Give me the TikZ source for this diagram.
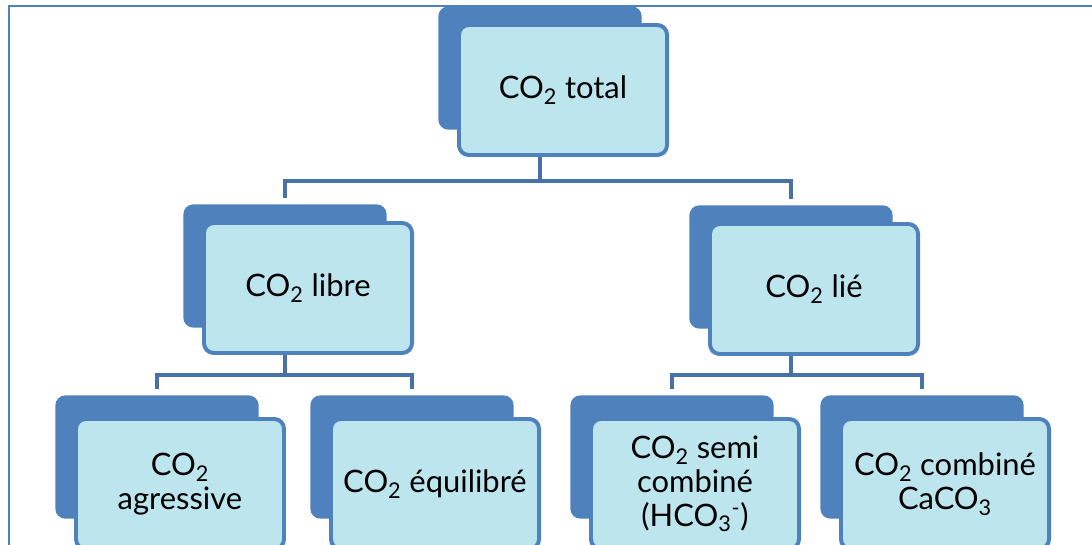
\documentclass[tikz,border=0pt]{standalone}
\usepackage{fontspec}
\setmainfont{Lato}
\usepackage{tikz}
\usetikzlibrary{positioning}
\definecolor{boxBlue}{HTML}{4F81BD}
\definecolor{linkBlue}{HTML}{4672A6}
\definecolor{waterFill}{HTML}{BCE5EE}
\tikzstyle{backBox}=[fill=boxBlue, rounded corners=7pt, minimum width=5.08cm, minimum height=3.08cm, inner sep=0pt]
\tikzstyle{frontBox}=[draw=boxBlue, line width=2.8pt, fill=waterFill, rounded corners=7pt, minimum width=5.2cm, minimum height=3.25cm, inner sep=0pt, align=center, font=\fontsize{22}{24}\selectfont]
\tikzstyle{link}=[draw=linkBlue, line width=3pt, shorten >=4pt]

\begin{document}
\begin{tikzpicture}[x=0.025cm, y=-0.025cm]

    \clip (0,0) rectangle (1092,545);
    \draw[boxBlue, line width=2pt] (9,560) -- (9,6) -- (1100,6);

    \coordinate (busTop) at (0,181);
    \coordinate (busLow) at (0,375);

    % back plates
    \node[backBox] (totalBack) at (540,68) {};
    \node[backBox] (libreBack) at (285,266) {};
    \node[backBox] (lieBack) at (791,267) {};
    \node[backBox] (agrBack) at (157,457) {};
    \node[backBox] (equBack) at (412,457) {};
    \node[backBox] (semiBack) at (672,457) {};
    \node[backBox] (combBack) at (922,457) {};

    % connectors
    \draw[link] (totalBack.south) -- (totalBack.south |- busTop) -| (libreBack.north);
    \draw[link] (totalBack.south |- busTop) -| (lieBack.north);
    \draw[link] (libreBack.south) -- (libreBack.south |- busLow) -| (agrBack.north);
    \draw[link] (libreBack.south |- busLow) -| (equBack.north);
    \draw[link] (lieBack.south) -- (lieBack.south |- busLow) -| (semiBack.north);
    \draw[link] (lieBack.south |- busLow) -| (combBack.north);

    % front boxes
    \node[frontBox] (totalBox) at (563,90) {CO\textsubscript{2} total};
    \node[frontBox] (libreBox) at (308,288) {CO\textsubscript{2} libre};
    \node[frontBox] (lieBox) at (814,289) {CO\textsubscript{2} lié};
    \node[frontBox] (agrBox) at (180,484) {CO\textsubscript{2}\\agressive};
    \node[frontBox] (equBox) at (435,484) {CO\textsubscript{2} équilibré};
    \node[frontBox] (semiBox) at (695,484) {CO\textsubscript{2} semi\\combiné\\(HCO\textsubscript{3}\textsuperscript{-})};
    \node[frontBox] (combBox) at (945,484) {CO\textsubscript{2} combiné\\CaCO\textsubscript{3}};

\end{tikzpicture}
\end{document}
